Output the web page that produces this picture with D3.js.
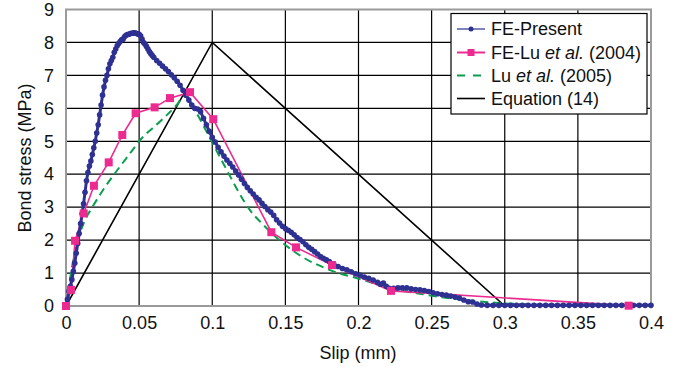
<!DOCTYPE html>
<html lang="en">
<head>
    <meta charset="UTF-8">
    <title>Bond stress vs slip</title>
    <style>
        body { margin: 0; background: #fff; }
        svg text { font-family: 'Liberation Sans', Arial, sans-serif; fill: #111; }
    </style>
</head>
<body>
    <div id="chart-wrapper"></div>

    <script src="https://d3js.org/d3.v7.min.js"></script>
    <script>
        // ---- data ----
        const xTicks = [0, 0.05, 0.1, 0.15, 0.2, 0.25, 0.3, 0.35, 0.4]
        const yTicks = [0, 1, 2, 3, 4, 5, 6, 7, 8, 9]
        const seriesNames = ['FE-Present', 'FE-Lu et al. (2004)', 'Lu et al. (2005)', 'Equation (14)']

        const presentSlip = [
            0, 0.001, 0.002, 0.003, 0.004, 0.005, 0.006, 0.007, 0.008, 0.009,
            0.010, 0.011, 0.012, 0.013, 0.014, 0.015, 0.016, 0.017, 0.018, 0.019,
            0.020, 0.021, 0.022, 0.023, 0.024, 0.025, 0.026, 0.027, 0.028, 0.029,
            0.030, 0.031, 0.032, 0.033, 0.034, 0.035, 0.036, 0.037, 0.038, 0.039,
            0.040, 0.041, 0.042, 0.043, 0.044, 0.045, 0.046, 0.047, 0.048, 0.049,
            0.050, 0.051, 0.052, 0.053, 0.054, 0.055, 0.056, 0.057, 0.058, 0.059,
            0.060, 0.062, 0.064, 0.066, 0.068, 0.070, 0.072, 0.074, 0.076, 0.078,
            0.080, 0.082, 0.084, 0.086, 0.088, 0.090, 0.092, 0.094, 0.096, 0.098,
            0.100, 0.102, 0.104, 0.106, 0.108, 0.110, 0.112, 0.114, 0.116, 0.118,
            0.120, 0.122, 0.124, 0.126, 0.128, 0.130, 0.132, 0.134, 0.136, 0.138,
            0.140, 0.142, 0.144, 0.146, 0.148, 0.150, 0.152, 0.154, 0.156, 0.158,
            0.160, 0.162, 0.164, 0.166, 0.168, 0.170, 0.172, 0.174, 0.176, 0.178,
            0.180, 0.183, 0.186, 0.189, 0.192, 0.195, 0.198, 0.201, 0.204, 0.207,
            0.210, 0.213, 0.215, 0.217, 0.219, 0.221, 0.224, 0.227, 0.230, 0.233,
            0.236, 0.239, 0.242, 0.245, 0.248, 0.251, 0.254, 0.257, 0.260, 0.263,
            0.266, 0.269, 0.272, 0.275, 0.278, 0.281, 0.284, 0.288, 0.292, 0.296,
            0.300, 0.304, 0.308, 0.312, 0.316, 0.320, 0.324, 0.328, 0.332, 0.336,
            0.340, 0.344, 0.348, 0.352, 0.356, 0.360, 0.364, 0.368, 0.372, 0.376,
            0.380, 0.384, 0.388, 0.392, 0.396, 0.400
        ]
        const presentStress = [
            0, 0.2, 0.45, 0.6, 0.8, 1.05, 1.3, 1.6, 1.9, 2.2,
            2.5, 2.8, 3.1, 3.45, 3.8, 4.05, 4.25, 4.4, 4.6, 4.8,
            5.0, 5.25, 5.5, 5.8, 6.1, 6.4, 6.65, 6.85, 7.0, 7.2,
            7.35, 7.45, 7.55, 7.7, 7.8, 7.9, 7.97, 8.03, 8.08, 8.1,
            8.17, 8.22, 8.24, 8.25, 8.27, 8.28, 8.29, 8.29, 8.28, 8.26,
            8.25, 8.2, 8.1, 8.0, 7.95, 7.88, 7.8, 7.72, 7.66, 7.6,
            7.55, 7.45, 7.37, 7.28, 7.2, 7.12, 7.02, 6.93, 6.82, 6.7,
            6.55, 6.4, 6.25, 6.1, 6.0, 5.98, 5.9, 5.7, 5.5, 5.3,
            5.12, 4.98, 4.82, 4.68, 4.55, 4.43, 4.33, 4.22, 4.1, 3.98,
            3.85, 3.72, 3.6, 3.5, 3.4, 3.3, 3.22, 3.12, 3.02, 2.92,
            2.85, 2.75, 2.62, 2.52, 2.42, 2.35, 2.3, 2.24, 2.16, 2.08,
            2.02, 1.95, 1.86, 1.78, 1.72, 1.65, 1.58, 1.5, 1.45, 1.4,
            1.35, 1.28, 1.2, 1.14, 1.1, 1.04, 0.98, 0.94, 0.88, 0.84,
            0.79, 0.72, 0.66, 0.7, 0.6, 0.54, 0.54, 0.55, 0.55, 0.55,
            0.52, 0.5, 0.49, 0.47, 0.44, 0.4, 0.37, 0.35, 0.33, 0.3,
            0.27, 0.24, 0.18, 0.13, 0.12, 0.06, 0.03, 0.02, 0.02, 0.02,
            0.02, 0.02, 0.02, 0.02, 0.02, 0.02, 0.02, 0.02, 0.02, 0.02,
            0.02, 0.02, 0.02, 0.02, 0.02, 0.02, 0.02, 0.02, 0.02, 0.02,
            0.02, 0.02, 0.02, 0.02, 0.02, 0.02
        ]

        const luFeSlip = [0, 0.0034, 0.0062, 0.0121, 0.0191, 0.0292, 0.0385, 0.0476, 0.0606, 0.0711, 0.0848, 0.1007, 0.1404, 0.1573, 0.1819, 0.2222, 0.3847]
        const luFeStress = [0, 0.49, 1.98, 2.81, 3.65, 4.36, 5.19, 5.85, 6.03, 6.31, 6.49, 5.67, 2.24, 1.78, 1.24, 0.46, 0.01]

        const luModelSlip = [0, 0.005, 0.013, 0.0176, 0.025, 0.0335, 0.0456, 0.05, 0.0643, 0.0757, 0.0814, 0.088, 0.1, 0.1099, 0.1212, 0.1258, 0.135, 0.1577, 0.1805, 0.2033, 0.2193, 0.2443, 0.265, 0.285, 0.3, 0.315, 0.33]
        const luModelStress = [0, 1.4, 2.61, 2.97, 3.5, 4.03, 4.74, 5.0, 5.6, 6.1, 6.4, 5.95, 4.96, 4.13, 3.22, 2.91, 2.46, 1.6, 1.09, 0.79, 0.57, 0.355, 0.22, 0.13, 0.08, 0.05, 0.02]

        const eqSlip = [0, 0.1, 0.3]
        const eqStress = [0, 8, 0]

        // ---- layout ----
        const width = 679
        const height = 367
        const plot = { left: 66, right: 651, top: 9.5, bottom: 306 }
        const fontSize = 18

        const svg = d3.select('#chart-wrapper')
            .append('svg')
            .attr('width', width)
            .attr('height', height)

        const x = d3.scaleLinear().domain([0, 0.4]).range([plot.left, plot.right])
        const y = d3.scaleLinear().domain([0, 9]).range([plot.bottom, plot.top])

        // grid
        svg.append('g')
            .selectAll('line')
            .data(xTicks.slice(1, -1))
            .join('line')
            .attr('x1', d => x(d)).attr('x2', d => x(d))
            .attr('y1', plot.top).attr('y2', plot.bottom)
            .attr('stroke', '#000').attr('stroke-width', 1.2)

        svg.append('g')
            .selectAll('line')
            .data(yTicks.slice(1, -1))
            .join('line')
            .attr('x1', plot.left).attr('x2', plot.right)
            .attr('y1', d => y(d)).attr('y2', d => y(d))
            .attr('stroke', '#000').attr('stroke-width', 1.2)

        // frame
        svg.append('rect')
            .attr('x', plot.left).attr('y', plot.top)
            .attr('width', plot.right - plot.left)
            .attr('height', plot.bottom - plot.top)
            .attr('fill', 'none')
            .attr('stroke', '#9a9a9a').attr('stroke-width', 2)

        // axes (labels only)
        const xAxis = svg.append('g')
            .attr('transform', `translate(0, ${plot.bottom})`)
            .call(d3.axisBottom(x).tickValues(xTicks).tickSize(0).tickPadding(10).tickFormat(d => d3.format('')(d)))
        const yAxis = svg.append('g')
            .attr('transform', `translate(${plot.left}, 0)`)
            .call(d3.axisLeft(y).tickValues(yTicks).tickSize(0).tickPadding(12))
        ;[xAxis, yAxis].forEach(a => {
            a.select('.domain').remove()
            a.selectAll('text').attr('font-size', fontSize).attr('font-family', "'Liberation Sans', Arial, sans-serif").attr('fill', '#111')
        })

        // axis titles
        svg.append('text')
            .attr('x', 358).attr('y', 359)
            .attr('text-anchor', 'middle')
            .attr('font-size', fontSize)
            .text('Slip (mm)')
        svg.append('text')
            .attr('transform', 'translate(31, 158) rotate(-90)')
            .attr('text-anchor', 'middle')
            .attr('font-size', fontSize)
            .text('Bond stress (MPa)')

        const line = d3.line().x(d => x(d[0])).y(d => y(d[1]))
        const zipPts = (a, b) => a.map((v, i) => [v, b[i]])

        const colors = { present: '#2e3192', luFe: '#ec2a8f', luModel: '#0a9e4e', eq: '#000' }

        // Equation (14)
        svg.append('path')
            .datum(zipPts(eqSlip, eqStress))
            .attr('d', line)
            .attr('fill', 'none').attr('stroke', colors.eq).attr('stroke-width', 1.6)

        // Lu et al. (2005)
        svg.append('path')
            .datum(zipPts(luModelSlip, luModelStress))
            .attr('d', line.curve(d3.curveMonotoneX))
            .attr('fill', 'none').attr('stroke', colors.luModel)
            .attr('stroke-width', 2).attr('stroke-dasharray', '8,5')
        line.curve(d3.curveLinear)

        // FE-Lu et al. (2004)
        const luFePts = zipPts(luFeSlip, luFeStress)
        svg.append('path')
            .datum(luFePts)
            .attr('d', line)
            .attr('fill', 'none').attr('stroke', colors.luFe).attr('stroke-width', 1.6)

        // FE-Present
        const presentPts = zipPts(presentSlip, presentStress)
        svg.append('path')
            .datum(presentPts)
            .attr('d', line)
            .attr('fill', 'none').attr('stroke', colors.present).attr('stroke-width', 3)
        svg.append('g')
            .selectAll('circle')
            .data(presentPts)
            .join('circle')
            .attr('cx', d => x(d[0])).attr('cy', d => y(d[1]))
            .attr('r', 2.8)
            .attr('fill', colors.present)

        // pink squares on top
        svg.append('g')
            .selectAll('rect')
            .data(luFePts)
            .join('rect')
            .attr('x', d => x(d[0]) - 4).attr('y', d => y(d[1]) - 4)
            .attr('width', 8).attr('height', 8)
            .attr('fill', colors.luFe)

        // legend
        const legend = svg.append('g')
        legend.append('rect')
            .attr('x', 451).attr('y', 13.5).attr('width', 196).attr('height', 100.5)
            .attr('fill', '#fff').attr('stroke', '#000').attr('stroke-width', 1.2)

        const rows = [29, 52.5, 75.5, 98.5]
        const lx0 = 457, lx1 = 485
        // FE-Present
        legend.append('line').attr('x1', lx0).attr('x2', lx1).attr('y1', rows[0]).attr('y2', rows[0])
            .attr('stroke', colors.present).attr('stroke-width', 1.2)
        legend.append('circle').attr('cx', (lx0 + lx1) / 2).attr('cy', rows[0]).attr('r', 2.5).attr('fill', colors.present)
        // FE-Lu
        legend.append('line').attr('x1', lx0).attr('x2', lx1).attr('y1', rows[1]).attr('y2', rows[1])
            .attr('stroke', colors.luFe).attr('stroke-width', 2)
        legend.append('rect').attr('x', (lx0 + lx1) / 2 - 3.5).attr('y', rows[1] - 3.5).attr('width', 7).attr('height', 7).attr('fill', colors.luFe)
        // Lu model
        legend.append('line').attr('x1', lx0).attr('x2', lx1).attr('y1', rows[2]).attr('y2', rows[2])
            .attr('stroke', colors.luModel).attr('stroke-width', 2).attr('stroke-dasharray', '8,8')
        // Equation
        legend.append('line').attr('x1', lx0).attr('x2', lx1).attr('y1', rows[3]).attr('y2', rows[3])
            .attr('stroke', colors.eq).attr('stroke-width', 1.6)

        const labelParts = [
            [['FE-Present', false]],
            [['FE-Lu ', false], ['et al.', true], [' (2004)', false]],
            [['Lu ', false], ['et al.', true], [' (2005)', false]],
            [['Equation (14)', false]]
        ]
        labelParts.forEach((parts, i) => {
            const t = legend.append('text')
                .attr('x', 491).attr('y', rows[i] + 6)
                .attr('font-size', fontSize)
                .attr('aria-label', seriesNames[i])
            parts.forEach(p => {
                t.append('tspan').attr('font-style', p[1] ? 'italic' : 'normal').text(p[0])
            })
        })
    </script>
</body>
</html>
